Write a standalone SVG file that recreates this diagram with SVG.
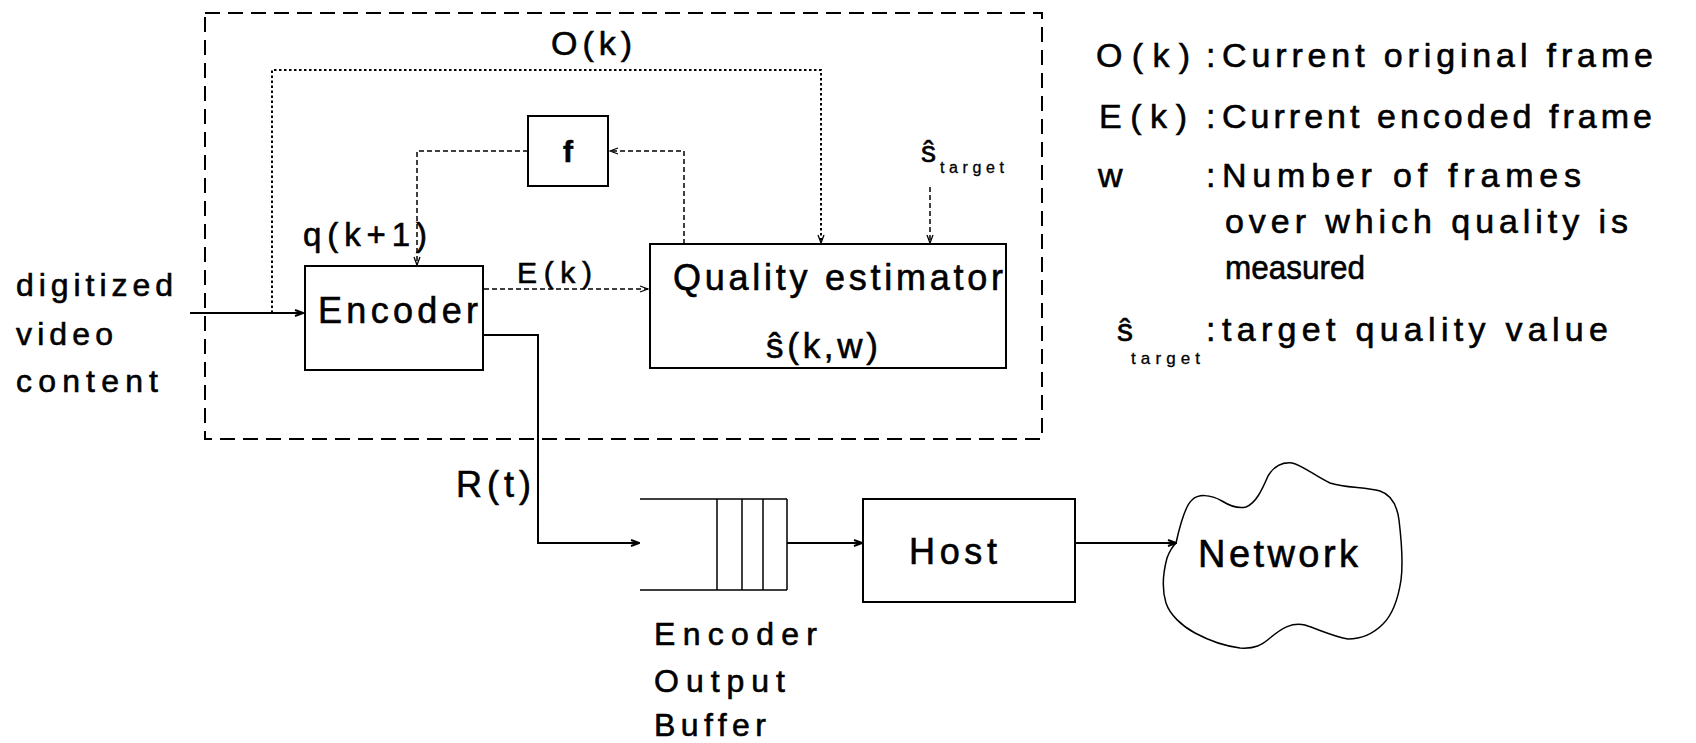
<svg xmlns="http://www.w3.org/2000/svg" width="1696" height="743" viewBox="0 0 1696 743">
<style>
text{font-family:"Liberation Sans",Arial,sans-serif;fill:#000;stroke:#000;stroke-width:0.6}
.sub{stroke-width:0.3}
.box{fill:none;stroke:#000;stroke-width:2}
.solid{fill:none;stroke:#000;stroke-width:2}
.thin{fill:none;stroke:#000;stroke-width:1.5}
.dot{fill:none;stroke:#000;stroke-width:2;stroke-dasharray:2.5 2.5}
.dash{fill:none;stroke:#000;stroke-width:1.5;stroke-dasharray:5 3}
.frame{fill:none;stroke:#000;stroke-width:2;stroke-dasharray:15 8}
</style>
<defs>
<marker id="ah" markerWidth="10" markerHeight="8" refX="9" refY="4" orient="auto" markerUnits="userSpaceOnUse">
<path d="M1,1 L9,4 L1,7" fill="none" stroke="#000" stroke-width="2"/>
</marker>
<marker id="ahs" markerWidth="10" markerHeight="8" refX="9" refY="4" orient="auto" markerUnits="userSpaceOnUse">
<path d="M1,1 L9,4 L1,7" fill="none" stroke="#000" stroke-width="1.3"/>
</marker>
</defs>
<rect width="1696" height="743" fill="#fff"/>

<g id="frame-box">
<rect class="frame" x="205" y="13" width="837" height="426"/>
</g>

<g id="connectors">
<path class="dot" d="M272,313 V70 H821 V243" marker-end="url(#ahs)"/>
<path class="dash" d="M684,244 V151 H610" marker-end="url(#ahs)"/>
<path class="dash" d="M528,151 H417 V265" marker-end="url(#ahs)"/>
<path class="dash" d="M484,289 H648" marker-end="url(#ahs)"/>
<path class="dash" d="M930,187 V243" marker-end="url(#ahs)"/>
<path class="solid" d="M190,313 H303" marker-end="url(#ah)"/>
<path class="solid" d="M484,335 H538 V543 H639" marker-end="url(#ah)"/>
<path class="solid" d="M787,543 H862" marker-end="url(#ah)"/>
<path class="solid" d="M1075,543 H1176" marker-end="url(#ah)"/>
</g>

<g id="input-label">
<text x="16" y="296" font-size="32" textLength="157" lengthAdjust="spacing">digitized</text>
<text x="16" y="345" font-size="32" textLength="97" lengthAdjust="spacing">video</text>
<text x="16" y="392" font-size="32" textLength="142" lengthAdjust="spacing">content</text>
</g>

<g id="ok-label">
<text x="551" y="55" font-size="34" textLength="81" lengthAdjust="spacing">O(k)</text>
</g>

<g id="f-node">
<rect class="box" x="528" y="116" width="80" height="70"/>
<text x="568" y="162" font-size="30" text-anchor="middle" font-weight="bold">f</text>
</g>

<g id="q-label">
<text x="303" y="246" font-size="33" textLength="124" lengthAdjust="spacing">q(k+1)</text>
</g>

<g id="encoder-node">
<rect class="box" x="305" y="266" width="178" height="104"/>
<text x="318" y="323" font-size="36" textLength="160" lengthAdjust="spacing">Encoder</text>
</g>

<g id="ek-label">
<text x="517" y="283" font-size="30" textLength="75" lengthAdjust="spacing">E(k)</text>
</g>

<g id="quality-estimator-node">
<rect class="box" x="650" y="244" width="356" height="124"/>
<text x="673" y="290" font-size="36" textLength="330" lengthAdjust="spacing">Quality estimator</text>
<text x="766" y="358" font-size="35" textLength="112" lengthAdjust="spacing">ŝ(k,w)</text>
</g>

<g id="starget-label">
<text x="921" y="162" font-size="30">ŝ</text>
<text class="sub" x="940" y="173" font-size="16" textLength="64" lengthAdjust="spacing">target</text>
</g>

<g id="rt-label">
<text x="456" y="497" font-size="36" textLength="75" lengthAdjust="spacing">R(t)</text>
</g>

<g id="buffer-node">
<path class="thin" d="M640,499 H787 M640,590 H787 M717,499 V590 M742,499 V590 M763,499 V590 M787,499 V590"/>
<text x="654" y="645" font-size="32" textLength="163" lengthAdjust="spacing">Encoder</text>
<text x="654" y="692" font-size="32" textLength="131" lengthAdjust="spacing">Output</text>
<text x="654" y="736" font-size="32" textLength="112" lengthAdjust="spacing">Buffer</text>
</g>

<g id="host-node">
<rect class="box" x="863" y="499" width="212" height="103"/>
<text x="909" y="564" font-size="36" textLength="88" lengthAdjust="spacing">Host</text>
</g>

<g id="network-node">
<path class="thin" d="M1176,543 C1180,525 1186,505 1192,500 C1198,494 1210,494 1222,501 C1230,506 1238,509 1246,507 C1256,503 1262,490 1268,476 C1274,466 1282,462 1292,463 C1302,465 1315,476 1330,483 C1345,488 1365,487 1380,491 C1392,495 1397,505 1399,520 C1402,545 1403,565 1401,580 C1398,600 1392,615 1383,624 C1372,635 1360,639 1348,639 C1335,637 1320,630 1305,625 C1292,622 1282,628 1270,638 C1262,645 1255,649 1240,648 C1225,646 1208,640 1195,633 C1182,626 1170,615 1166,603 C1162,590 1163,573 1167,558 C1170,550 1173,546 1176,543 Z"/>
<text x="1198" y="567" font-size="38" textLength="160" lengthAdjust="spacing">Network</text>
</g>

<g id="legend">
<text x="1096" y="67" font-size="34" textLength="94" lengthAdjust="spacing">O(k)</text>
<text x="1206" y="67" font-size="34">:</text>
<text x="1222" y="67" font-size="34" textLength="431" lengthAdjust="spacing">Current original frame</text>
<text x="1099" y="128" font-size="34" textLength="88" lengthAdjust="spacing">E(k)</text>
<text x="1206" y="128" font-size="34">:</text>
<text x="1222" y="128" font-size="34" textLength="430" lengthAdjust="spacing">Current encoded frame</text>
<text x="1098" y="187" font-size="34">w</text>
<text x="1206" y="187" font-size="34">:</text>
<text x="1222" y="187" font-size="34" textLength="359" lengthAdjust="spacing">Number of frames</text>
<text x="1225" y="233" font-size="34" textLength="403" lengthAdjust="spacing">over which quality is</text>
<text x="1225" y="279" font-size="34" textLength="140" lengthAdjust="spacingAndGlyphs">measured</text>
<text x="1117" y="341" font-size="32">ŝ</text>
<text class="sub" x="1131" y="364" font-size="17" textLength="69" lengthAdjust="spacing">target</text>
<text x="1206" y="341" font-size="34">:</text>
<text x="1222" y="341" font-size="34" textLength="386" lengthAdjust="spacing">target quality value</text>
</g>
</svg>
